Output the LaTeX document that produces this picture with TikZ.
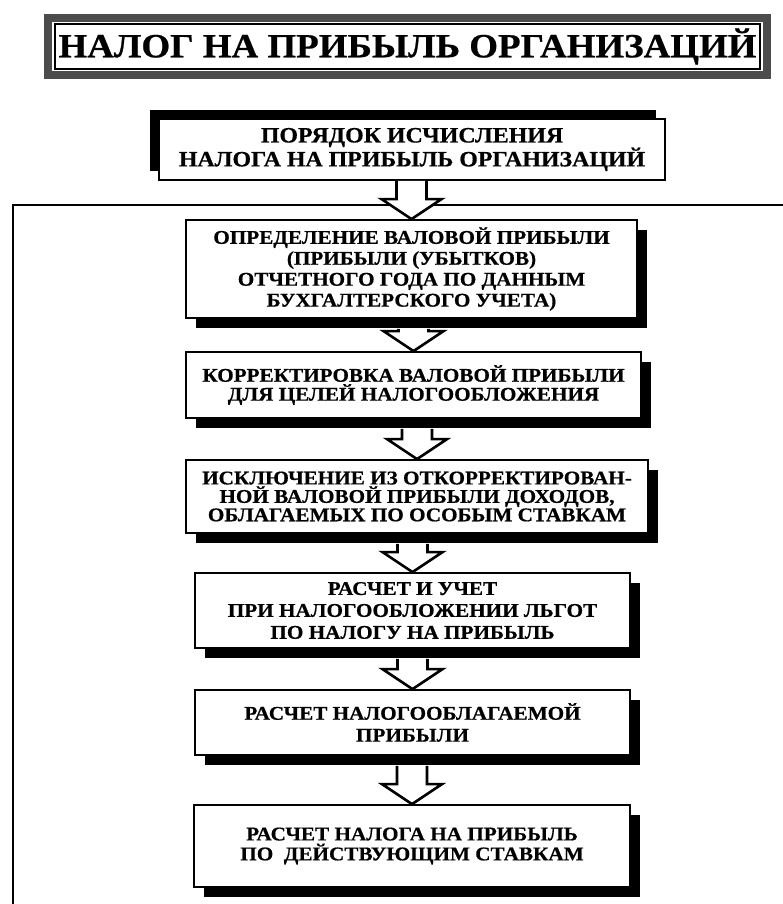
\documentclass[tikz,border=0pt]{standalone}
\usepackage{fontspec}
\setmainfont{Liberation Serif}[FakeStretch=1.09,BoldFeatures={FakeBold=0.6}]
\usetikzlibrary{shadows,calc}

% hollow block arrow from #1 down to #2
\newcommand{\hollowarrow}[2]{%
	\draw[strelka] let \p1=(#1), \p2=(#2) in
		(\x2-15bp,\y1) -- (\x2-15bp,\y2+20bp) -- (\x2-30bp,\y2+20bp) -- (\x2,\y2)
		-- (\x2+30bp,\y2+20bp) -- (\x2+15bp,\y2+20bp) -- (\x2+15bp,\y1);}

\begin{document}
\begin{tikzpicture}[x=1bp,y=-1bp,
		blok/.style={draw,line width=1.8bp,fill=white,align=center,inner sep=0pt,
			font=\bfseries\fontsize{19.5}{18.5}\selectfont,
			execute at begin node=\rule{0pt}{26bp}},
		ten/.style={drop shadow={shadow xshift=10bp,shadow yshift=-10bp,opacity=1,fill=black}},
		tenverh/.style={drop shadow={shadow xshift=-9bp,shadow yshift=9bp,opacity=1,fill=black}},
		strelka/.style={draw,line width=2.6bp,fill=white,line join=miter},
		ramka/.style={line width=1.8bp}]
			\useasboundingbox (0,0) rectangle (783,904);
			
			% title
			\node[draw,line width=1.2bp,minimum width=705bp,minimum height=45bp,inner sep=0pt,
				font=\bfseries\fontsize{34}{34}\selectfont] (titul) at (407.5,46.5) {НАЛОГ НА ПРИБЫЛЬ ОРГАНИЗАЦИЙ};
			\draw[line width=8bp,black!70] ([shift={(-6,-5)}]titul.north west) rectangle ([shift={(6,5)}]titul.south east);
			
			% outer frame
			\draw[ramka] (13,904) -- (13,205) -- (783,205);
			
			\node[blok,tenverh,minimum width=506bp,minimum height=61bp,font=\bfseries\fontsize{22}{24}\selectfont] (box0) at (412,149.5)
				{ПОРЯДОК ИСЧИСЛЕНИЯ\\НАЛОГА НА ПРИБЫЛЬ ОРГАНИЗАЦИЙ};
			\node[blok,ten,minimum width=451bp,minimum height=98bp,font=\bfseries\fontsize{19.5}{21}\selectfont] (box1) at (411.5,269)
				{ОПРЕДЕЛЕНИЕ ВАЛОВОЙ ПРИБЫЛИ\\(ПРИБЫЛИ (УБЫТКОВ)\\ОТЧЕТНОГО ГОДА ПО ДАННЫМ\\БУХГАЛТЕРСКОГО УЧЕТА)};
			\node[blok,ten,minimum width=455bp,minimum height=66bp,font=\bfseries\fontsize{19.5}{19}\selectfont] (box2) at (413.5,385)
				{КОРРЕКТИРОВКА ВАЛОВОЙ ПРИБЫЛИ\\ДЛЯ ЦЕЛЕЙ НАЛОГООБЛОЖЕНИЯ};
			\node[blok,ten,minimum width=462bp,minimum height=73bp] (box3) at (417,496.5)
				{ИСКЛЮЧЕНИЕ ИЗ ОТКОРРЕКТИРОВАН-\\НОЙ ВАЛОВОЙ ПРИБЫЛИ ДОХОДОВ,\\ОБЛАГАЕМЫХ ПО ОСОБЫМ СТАВКАМ};
			\node[blok,ten,minimum width=435bp,minimum height=75bp,font=\bfseries\fontsize{19.5}{22}\selectfont] (box4) at (412.5,610.5)
				{РАСЧЕТ И УЧЕТ\\ПРИ НАЛОГООБЛОЖЕНИИ ЛЬГОТ\\ПО НАЛОГУ НА ПРИБЫЛЬ};
			\node[blok,ten,minimum width=435bp,minimum height=65bp,font=\bfseries\fontsize{19.5}{22}\selectfont] (box5) at (412.5,722.5)
				{РАСЧЕТ НАЛОГООБЛАГАЕМОЙ\\ПРИБЫЛИ};
			\node[blok,ten,minimum width=436bp,minimum height=82bp,font=\bfseries\fontsize{19.5}{20}\selectfont] (box6) at (412,846)
				{РАСЧЕТ НАЛОГА НА ПРИБЫЛЬ\\ПО\ \ ДЕЙСТВУЮЩИМ СТАВКАМ};
			
			% arrows
			\hollowarrow{box0.south}{box1.north}
			\hollowarrow{[yshift=-10bp]box1.south}{box2.north}
			\hollowarrow{[yshift=-10bp]box2.south}{box3.north}
			\hollowarrow{[yshift=-10bp]box3.south}{box4.north}
			\hollowarrow{[yshift=-10bp]box4.south}{box5.north}
			\hollowarrow{[yshift=-10bp]box5.south}{box6.north}
			\end{tikzpicture}
\end{document}
